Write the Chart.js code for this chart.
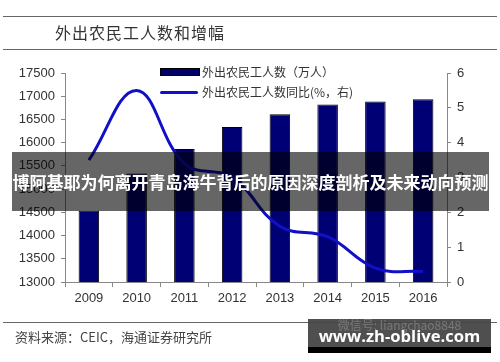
<!DOCTYPE html>
<html>
<head>
<meta charset="utf-8">
<script src="https://cdn.jsdelivr.net/npm/chart.js@4/dist/chart.umd.min.js"></script>
<style>
    html, body { margin: 0; padding: 0; background: #fff; }
    #wrap { position: relative; width: 500px; height: 362px; overflow: hidden; font-family: 'Noto Sans CJK SC', sans-serif; }
    #chart { position: absolute; left: 0; top: 0; }
    .rule { position: absolute; left: 3px; width: 494px; height: 1px; background: #666; }
    .title { position: absolute; left: 55px; top: 22px; font-size: 16px; line-height: 20px; color: #333; letter-spacing: 1px; }
    .legend { position: absolute; left: 160px; font-size: 12px; line-height: 14px; color: #333; }
    .legend .sw { position: absolute; left: 0; width: 38px; }
    .legend span { position: absolute; left: 42px; top: 0; white-space: nowrap; }
    .banner { position: absolute; left: 12px; top: 152px; width: 477px; height: 59px; background: rgba(0, 0, 0, 0.6); color: #fff; font-weight: bold; font-size: 17px; line-height: 59px; text-align: center; white-space: nowrap; }
    .source { position: absolute; left: 15px; top: 328px; font-size: 13px; line-height: 18px; color: #444; }
    .mark { position: absolute; left: 308px; top: 319px; width: 183px; height: 28px; background: rgba(70, 70, 70, 0.95); border-bottom: 6px solid #000; }
    .mark .ghost { position: absolute; left: 0; top: -3px; width: 183px; text-align: center; font-size: 12px; color: rgba(170, 170, 170, 0.45); white-space: nowrap; }
    .mark .url { position: absolute; left: 0; top: 6px; width: 183px; text-align: center; font-family: 'Open Sans', sans-serif; font-weight: bold; font-size: 16.6px; line-height: 22px; color: #fff; white-space: nowrap; }
</style>
</head>
<body>
<div id="wrap">
    <canvas id="chart" width="500" height="362"></canvas>
    <div class="rule" style="top: 16px;"></div>
    <div class="title">外出农民工人数和增幅</div>
    <div class="rule" style="top: 49px;"></div>
    <div class="legend" style="top: 65px;">
        <div class="sw" style="top: 3px; height: 6px; background: #000066; border: 1px solid #000;"></div>
        <span>外出农民工人数（万人）</span>
    </div>
    <div class="legend" style="top: 85px;">
        <div class="sw" style="top: 6px; height: 3px; background: #1010c8; border-radius: 2px;"></div>
        <span>外出农民工人数同比(%，右)</span>
    </div>
    <div class="banner">博阿基耶为何离开青岛海牛背后的原因深度剖析及未来动向预测</div>
    <div class="rule" style="top: 322px;"></div>
    <div class="source">资料来源：CEIC，海通证券研究所</div>
    <div class="mark">
        <div class="ghost">微信号: liangchao8848</div>
        <div class="url">www.zh-oblive.com</div>
    </div>
</div>
<script>
const years = ['2009', '2010', '2011', '2012', '2013', '2014', '2015', '2016'];
const migrants = [14533, 15335, 15863, 16336, 16610, 16821, 16884, 16934];
const growth = [3.5, 5.5, 3.4, 3.0, 1.6, 1.3, 0.4, 0.3];

const AXIS = '#888888';
const TICK_FONT = { family: "'Liberation Sans', Arial, sans-serif", size: 13 };

new Chart(document.getElementById('chart').getContext('2d'), {
    data: {
        labels: years,
        datasets: [
            {
                type: 'line',
                label: '外出农民工人数同比(%，右)',
                data: growth,
                yAxisID: 'y1',
                borderColor: '#1010c8',
                borderWidth: 3,
                pointRadius: 0,
                tension: 0.4,
                fill: false,
                order: 0,
            },
            {
                type: 'bar',
                label: '外出农民工人数（万人）',
                data: migrants,
                yAxisID: 'y',
                backgroundColor: '#000075',
                borderColor: '#000000',
                borderWidth: 1,
                categoryPercentage: 1,
                barPercentage: 0.43,
                order: 1,
            },
        ],
    },
    options: {
        responsive: false,
        devicePixelRatio: 1,
        animation: false,
        layout: { padding: { top: 73, left: 0, right: 0, bottom: 0 } },
        plugins: {
            legend: { display: false },
            tooltip: { enabled: false },
        },
        scales: {
            x: {
                border: { color: AXIS, width: 1 },
                grid: { drawOnChartArea: false, color: AXIS, tickLength: 5 },
                ticks: { color: '#333', font: TICK_FONT, padding: 4, maxRotation: 0 },
                afterFit(scale) { scale.height = 80; },
            },
            y: {
                position: 'left',
                min: 13000,
                max: 17500,
                border: { color: AXIS, width: 1 },
                grid: { drawOnChartArea: false, color: AXIS, tickLength: 4 },
                ticks: {
                    stepSize: 500,
                    color: '#333',
                    font: TICK_FONT,
                    padding: 6,
                    callback(value) {
                        return String(value);
                    },
                },
                afterFit(scale) { scale.width = 65; },
            },
            y1: {
                position: 'right',
                min: 0,
                max: 6,
                border: { color: AXIS, width: 1 },
                grid: { drawOnChartArea: false, color: AXIS, tickLength: 4 },
                ticks: { stepSize: 1, color: '#333', font: TICK_FONT, padding: 6 },
                afterFit(scale) { scale.width = 53; },
            },
        },
    },
});
</script>
</body>
</html>
